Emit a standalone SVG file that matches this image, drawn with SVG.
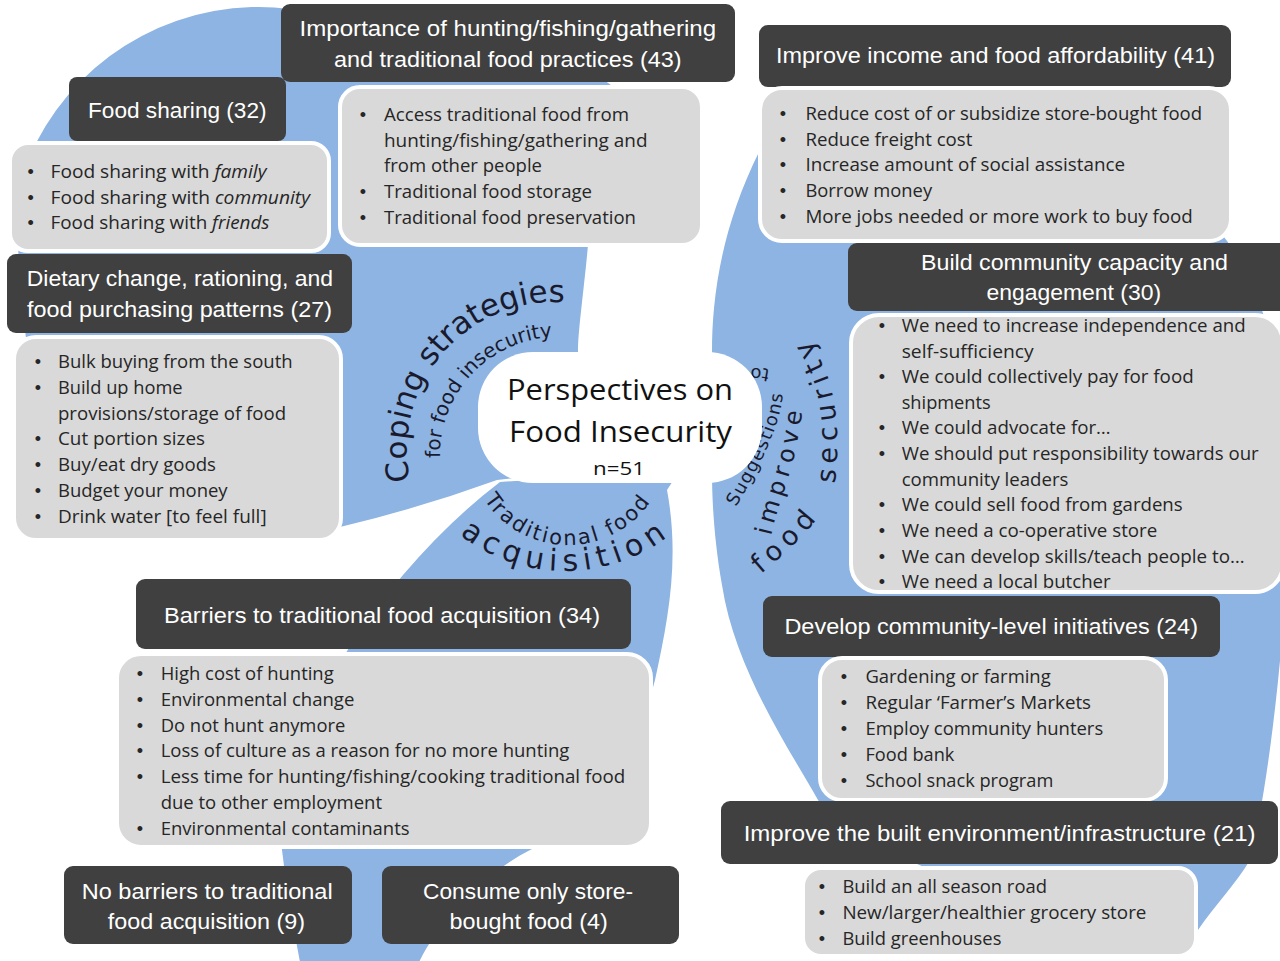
<svg xmlns="http://www.w3.org/2000/svg" xmlns:xlink="http://www.w3.org/1999/xlink" width="1280" height="961" viewBox="0 0 1280 961">
<style>
.petal{fill:#8db4e2}
.hdr{fill:#404040}
.lst{fill:#d9d9d9;stroke:#ffffff;stroke-width:4}
.ht{font-family:"Liberation Sans",Arial,sans-serif;font-size:22px;fill:#ffffff;text-anchor:middle}
.li{font-family:"Open Sans","Liberation Sans",Arial,sans-serif;font-size:18px;fill:#262626}
.bu{font-family:"Liberation Sans",Arial,sans-serif;font-size:18px;fill:#262626;text-anchor:middle}
.arc{font-family:"DejaVu Sans",Verdana,sans-serif;fill:#1a1a2e}
.ctr{font-family:"Open Sans","Liberation Sans",Arial,sans-serif;fill:#111111;text-anchor:middle}
</style>
<defs>
<path id="pCoping" d="M 410.2,480.8 A 148 148 0 0 1 605.6,310.9"/>
<path id="pFor" d="M 440,458 A 118 118 0 0 1 598.4,344.1"/>
<path id="pTrad" d="M 484.1,499.5 A 100 100 0 0 0 664.6,470.9"/>
<path id="pAcq" d="M 459.7,534.7 A 171 171 0 0 0 685.9,520.9"/>
<path id="pSug" d="M 736,507 C 752,480 768,450 776,425 C 781,410 783,398 783,388 C 782,375 775,369 762,368 L 720,368"/>
<path id="pImp" d="M 771,536 C 778,505 791,474 797,444 L 805,395"/>
<path id="pFood" d="M 761,574 C 781,557 806,535 823,511 C 832,495 837,480 837,460 C 838,430 836,410 832,392 C 828,372 817,350 802,328 L 777,300"/>
</defs>

<g id="petals">
<path id="petal-coping" class="petal" d="M 578,470 L 497,480 Q 420,508 340,527 L 300,530 C 150,532 40,470 25,330 C 14,265 16,200 36,143 A 250 250 0 0 1 290,9 C 420,0 560,30 640,110 C 600,160 590,210 588,245 C 584,290 578,330 578,352 Z"/>
<path id="petal-traditional" class="petal" d="M 680,470 L 500,482 Q 450,520 403,575 C 330,660 270,780 282,850 C 288,900 298,950 305,990 L 410,990 C 415,950 470,880 532,849 C 600,800 640,740 655,680 C 668,620 680,560 667,490 Z"/>
<path id="petal-suggestions" class="petal" d="M 830,95 C 1000,100 1180,170 1230,245 C 1290,330 1300,500 1285,600 C 1278,700 1265,800 1250,860 C 1235,885 1215,905 1198,930 L 1150,935 C 1000,900 850,850 818,800 C 790,750 735,670 722,585 C 714,540 712,500 712,470 L 712,352 C 712,300 720,230 760,150 C 780,120 800,100 830,95 Z"/>
</g>

<g id="connectors"></g>

<g id="petal-labels">
<text class="arc" font-size="31"><textPath href="#pCoping" xlink:href="#pCoping">Coping strategies</textPath></text>
<text class="arc" font-size="20"><textPath href="#pFor" xlink:href="#pFor">for food insecurity</textPath></text>
<text class="arc" font-size="21" letter-spacing="2.2"><textPath href="#pTrad" xlink:href="#pTrad">Traditional food</textPath></text>
<text class="arc" font-size="30" letter-spacing="6"><textPath href="#pAcq" xlink:href="#pAcq">acquisition</textPath></text>
<text class="arc" font-size="18" letter-spacing="1.3"><textPath href="#pSug" xlink:href="#pSug">Suggestions <tspan dx="22">to</tspan></textPath></text>
<text class="arc" font-size="24" letter-spacing="5"><textPath href="#pImp" xlink:href="#pImp">improve</textPath></text>
<text class="arc" font-size="27" letter-spacing="6" word-spacing="20"><textPath href="#pFood" xlink:href="#pFood">food security</textPath></text>
</g>

<g id="center">
<rect x="478" y="352" width="284" height="131" rx="55" fill="#ffffff"/>
<text class="ctr" x="620" y="400" font-size="30" textLength="226" lengthAdjust="spacingAndGlyphs">Perspectives on</text>
<text class="ctr" x="620.5" y="442" font-size="30" textLength="223" lengthAdjust="spacingAndGlyphs">Food Insecurity</text>
<text class="ctr" x="619" y="475" font-size="19" textLength="52" lengthAdjust="spacingAndGlyphs">n=51</text>
</g>

<g id="node-importance">
<rect class="hdr" x="281" y="4" width="454" height="78" rx="9"/>
<text class="ht" x="507.8" y="36" textLength="416.5" lengthAdjust="spacingAndGlyphs">Importance of hunting/fishing/gathering</text>
<text class="ht" x="507.8" y="67" textLength="347.6" lengthAdjust="spacingAndGlyphs">and traditional food practices (43)</text>
<rect class="lst" x="340" y="87" width="362" height="158" rx="20"/>
<text class="bu" x="363" y="121">•</text>
<text class="li" x="384" y="121" textLength="245" lengthAdjust="spacingAndGlyphs">Access traditional food from</text>
<text class="li" x="384" y="147" textLength="263.5" lengthAdjust="spacingAndGlyphs">hunting/fishing/gathering and</text>
<text class="li" x="384" y="172" textLength="158" lengthAdjust="spacingAndGlyphs">from other people</text>
<text class="bu" x="363" y="198">•</text>
<text class="li" x="384" y="198" textLength="208" lengthAdjust="spacingAndGlyphs">Traditional food storage</text>
<text class="bu" x="363" y="224">•</text>
<text class="li" x="384" y="224" textLength="252" lengthAdjust="spacingAndGlyphs">Traditional food preservation</text>
</g>

<g id="node-food-sharing">
<rect class="hdr" x="69" y="77" width="217" height="64" rx="8"/>
<text class="ht" x="177.3" y="118" textLength="178.5" lengthAdjust="spacingAndGlyphs">Food sharing (32)</text>
<rect class="lst" x="10" y="143" width="319" height="108" rx="18"/>
<text class="bu" x="30.6" y="178">•</text>
<text class="li" x="50.5" y="178" textLength="216" lengthAdjust="spacingAndGlyphs">Food sharing with <tspan font-style="italic">family</tspan></text>
<text class="bu" x="30.6" y="204">•</text>
<text class="li" x="50.5" y="204" textLength="259.5" lengthAdjust="spacingAndGlyphs">Food sharing with <tspan font-style="italic">community</tspan></text>
<text class="bu" x="30.6" y="229">•</text>
<text class="li" x="50.5" y="229" textLength="219" lengthAdjust="spacingAndGlyphs">Food sharing with <tspan font-style="italic">friends</tspan></text>
</g>

<g id="node-dietary">
<rect class="hdr" x="7" y="254" width="345" height="79" rx="9"/>
<text class="ht" x="179.9" y="286" textLength="306.3" lengthAdjust="spacingAndGlyphs">Dietary change, rationing, and</text>
<text class="ht" x="179.5" y="317" textLength="305" lengthAdjust="spacingAndGlyphs">food purchasing patterns (27)</text>
<rect class="lst" x="14" y="337" width="327" height="203" rx="22"/>
<text class="bu" x="38" y="368">•</text>
<text class="li" x="58" y="368" textLength="234.6" lengthAdjust="spacingAndGlyphs">Bulk buying from the south</text>
<text class="bu" x="38" y="394">•</text>
<text class="li" x="58" y="394" textLength="124.6" lengthAdjust="spacingAndGlyphs">Build up home</text>
<text class="li" x="58" y="420" textLength="228" lengthAdjust="spacingAndGlyphs">provisions/storage of food</text>
<text class="bu" x="38" y="445">•</text>
<text class="li" x="58" y="445" textLength="147" lengthAdjust="spacingAndGlyphs">Cut portion sizes</text>
<text class="bu" x="38" y="471">•</text>
<text class="li" x="58" y="471" textLength="158" lengthAdjust="spacingAndGlyphs">Buy/eat dry goods</text>
<text class="bu" x="38" y="497">•</text>
<text class="li" x="58" y="497" textLength="169.6" lengthAdjust="spacingAndGlyphs">Budget your money</text>
<text class="bu" x="38" y="523">•</text>
<text class="li" x="58" y="523" textLength="208.6" lengthAdjust="spacingAndGlyphs">Drink water [to feel full]</text>
</g>

<g id="node-income">
<rect class="hdr" x="759" y="25" width="472" height="62" rx="9"/>
<text class="ht" x="995.5" y="63" textLength="439" lengthAdjust="spacingAndGlyphs">Improve income and food affordability (41)</text>
<rect class="lst" x="760" y="88" width="471" height="153" rx="22"/>
<text class="bu" x="783" y="120">•</text>
<text class="li" x="805.4" y="120" textLength="396.7" lengthAdjust="spacingAndGlyphs">Reduce cost of or subsidize store-bought food</text>
<text class="bu" x="783" y="146">•</text>
<text class="li" x="805.4" y="146" textLength="167" lengthAdjust="spacingAndGlyphs">Reduce freight cost</text>
<text class="bu" x="783" y="171">•</text>
<text class="li" x="805.4" y="171" textLength="319.6" lengthAdjust="spacingAndGlyphs">Increase amount of social assistance</text>
<text class="bu" x="783" y="197">•</text>
<text class="li" x="805.4" y="197" textLength="126.7" lengthAdjust="spacingAndGlyphs">Borrow money</text>
<text class="bu" x="783" y="223">•</text>
<text class="li" x="805.4" y="223" textLength="387.4" lengthAdjust="spacingAndGlyphs">More jobs needed or more work to buy food</text>
</g>

<g id="node-capacity">
<rect class="hdr" x="848" y="243" width="440" height="68" rx="9"/>
<text class="ht" x="1074.5" y="270" textLength="307" lengthAdjust="spacingAndGlyphs">Build community capacity and</text>
<text class="ht" x="1073.8" y="300" textLength="174.6" lengthAdjust="spacingAndGlyphs">engagement (30)</text>
<rect class="lst" x="851" y="315" width="432" height="277" rx="28"/>
<text class="bu" x="882" y="332">•</text>
<text class="li" x="901.7" y="332" textLength="344" lengthAdjust="spacingAndGlyphs">We need to increase independence and</text>
<text class="li" x="901.7" y="357.5" textLength="132" lengthAdjust="spacingAndGlyphs">self-sufficiency</text>
<text class="bu" x="882" y="383">•</text>
<text class="li" x="901.7" y="383" textLength="292" lengthAdjust="spacingAndGlyphs">We could collectively pay for food</text>
<text class="li" x="901.7" y="409" textLength="89" lengthAdjust="spacingAndGlyphs">shipments</text>
<text class="bu" x="882" y="434">•</text>
<text class="li" x="901.7" y="434" textLength="209" lengthAdjust="spacingAndGlyphs">We could advocate for…</text>
<text class="bu" x="882" y="460">•</text>
<text class="li" x="901.7" y="460" textLength="357" lengthAdjust="spacingAndGlyphs">We should put responsibility towards our</text>
<text class="li" x="901.7" y="486" textLength="166.7" lengthAdjust="spacingAndGlyphs">community leaders</text>
<text class="bu" x="882" y="511">•</text>
<text class="li" x="901.7" y="511" textLength="281" lengthAdjust="spacingAndGlyphs">We could sell food from gardens</text>
<text class="bu" x="882" y="537">•</text>
<text class="li" x="901.7" y="537" textLength="255.6" lengthAdjust="spacingAndGlyphs">We need a co-operative store</text>
<text class="bu" x="882" y="563">•</text>
<text class="li" x="901.7" y="563" textLength="343" lengthAdjust="spacingAndGlyphs">We can develop skills/teach people to…</text>
<text class="bu" x="882" y="588">•</text>
<text class="li" x="901.7" y="588" textLength="209" lengthAdjust="spacingAndGlyphs">We need a local butcher</text>
</g>

<g id="node-barriers">
<rect class="hdr" x="136" y="579" width="495" height="70" rx="9"/>
<text class="ht" x="382" y="623" textLength="436" lengthAdjust="spacingAndGlyphs">Barriers to traditional food acquisition (34)</text>
<rect class="lst" x="117" y="654" width="534" height="193" rx="24"/>
<text class="bu" x="140" y="680">•</text>
<text class="li" x="160.7" y="680" textLength="173" lengthAdjust="spacingAndGlyphs">High cost of hunting</text>
<text class="bu" x="140" y="706">•</text>
<text class="li" x="160.7" y="706" textLength="193.7" lengthAdjust="spacingAndGlyphs">Environmental change</text>
<text class="bu" x="140" y="732">•</text>
<text class="li" x="160.7" y="732" textLength="184.6" lengthAdjust="spacingAndGlyphs">Do not hunt anymore</text>
<text class="bu" x="140" y="757">•</text>
<text class="li" x="160.7" y="757" textLength="408.6" lengthAdjust="spacingAndGlyphs">Loss of culture as a reason for no more hunting</text>
<text class="bu" x="140" y="783">•</text>
<text class="li" x="160.7" y="783" textLength="464.6" lengthAdjust="spacingAndGlyphs">Less time for hunting/fishing/cooking traditional food</text>
<text class="li" x="160.7" y="809" textLength="221.3" lengthAdjust="spacingAndGlyphs">due to other employment</text>
<text class="bu" x="140" y="835">•</text>
<text class="li" x="160.7" y="835" textLength="248.9" lengthAdjust="spacingAndGlyphs">Environmental contaminants</text>
</g>

<g id="node-no-barriers">
<rect class="hdr" x="64" y="866" width="288" height="78" rx="9"/>
<text class="ht" x="207.2" y="899" textLength="250.9" lengthAdjust="spacingAndGlyphs">No barriers to traditional</text>
<text class="ht" x="206.4" y="929" textLength="197.2" lengthAdjust="spacingAndGlyphs">food acquisition (9)</text>
</g>

<g id="node-store-bought">
<rect class="hdr" x="382" y="866" width="297" height="78" rx="9"/>
<text class="ht" x="528" y="899" textLength="210" lengthAdjust="spacingAndGlyphs">Consume only store-</text>
<text class="ht" x="528.7" y="929" textLength="158.3" lengthAdjust="spacingAndGlyphs">bought food (4)</text>
</g>

<g id="node-initiatives">
<rect class="hdr" x="763" y="596" width="457" height="61" rx="9"/>
<text class="ht" x="991.2" y="634" textLength="413.6" lengthAdjust="spacingAndGlyphs">Develop community-level initiatives (24)</text>
<rect class="lst" x="820" y="658" width="346" height="142" rx="22"/>
<text class="bu" x="844" y="683">•</text>
<text class="li" x="865.4" y="683" textLength="185.3" lengthAdjust="spacingAndGlyphs">Gardening or farming</text>
<text class="bu" x="844" y="709">•</text>
<text class="li" x="865.4" y="709" textLength="225.6" lengthAdjust="spacingAndGlyphs">Regular ‘Farmer’s Markets</text>
<text class="bu" x="844" y="735">•</text>
<text class="li" x="865.4" y="735" textLength="237.8" lengthAdjust="spacingAndGlyphs">Employ community hunters</text>
<text class="bu" x="844" y="761">•</text>
<text class="li" x="865.4" y="761" textLength="89" lengthAdjust="spacingAndGlyphs">Food bank</text>
<text class="bu" x="844" y="787">•</text>
<text class="li" x="865.4" y="787" textLength="187.9" lengthAdjust="spacingAndGlyphs">School snack program</text>
</g>

<g id="node-infrastructure">
<rect class="hdr" x="721" y="801" width="557" height="63" rx="9"/>
<text class="ht" x="999.6" y="841" textLength="511.8" lengthAdjust="spacingAndGlyphs">Improve the built environment/infrastructure (21)</text>
<rect class="lst" x="803" y="868" width="393" height="88" rx="18"/>
<text class="bu" x="822" y="893">•</text>
<text class="li" x="842.4" y="893" textLength="204.6" lengthAdjust="spacingAndGlyphs">Build an all season road</text>
<text class="bu" x="822" y="919">•</text>
<text class="li" x="842.4" y="919" textLength="304" lengthAdjust="spacingAndGlyphs">New/larger/healthier grocery store</text>
<text class="bu" x="822" y="945">•</text>
<text class="li" x="842.4" y="945" textLength="159" lengthAdjust="spacingAndGlyphs">Build greenhouses</text>
</g>
</svg>
